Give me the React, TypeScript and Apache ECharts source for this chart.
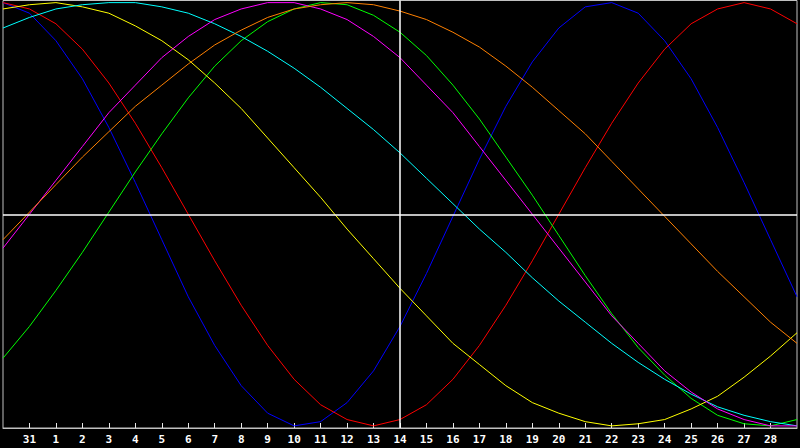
import React, { useEffect, useRef } from 'react';
import * as echarts from 'echarts';

// day labels along the bottom axis (first and last are not shown)
const days = [
  '30', '31', '1', '2', '3', '4', '5', '6', '7', '8', '9', '10', '11', '12', '13', '14',
  '15', '16', '17', '18', '19', '20', '21', '22', '23', '24', '25', '26', '27', '28', '29',
];

// cycle values, -100 .. 100, one per day
const physical = [
  100, 95, 82, 64, 41, 15, -12, -39, -62, -81, -94, -100, -98, -89, -74, -53,
  -28, -1, 26, 51, 72, 88, 98, 100, 95, 82, 64, 41, 15, -12, -39,
];
const emotional = [
  100, 97, 90, 78, 62, 43, 22, 0, -22, -43, -62, -78, -90, -97, -100, -97,
  -90, -78, -62, -43, -22, 0, 22, 43, 62, 78, 90, 97, 100, 97, 90,
];
const intellectual = [
  -68, -53, -36, -18, 1, 20, 38, 55, 70, 82, 91, 97, 100, 99, 94, 86,
  75, 61, 45, 27, 9, -10, -29, -47, -63, -76, -87, -95, -99, -100, -97,
];
const intuitive = [
  -16, 0, 16, 32, 48, 61, 74, 84, 92, 97, 100, 100, 97, 92, 84, 74,
  61, 48, 32, 16, 0, -16, -32, -48, -61, -74, -84, -92, -97, -100, -100,
];
const aesthetic = [
  97, 99, 100, 98, 95, 89, 82, 73, 62, 50, 36, 22, 8, -7, -21, -35,
  -48, -61, -71, -81, -89, -94, -98, -100, -99, -97, -92, -86, -77, -67, -56,
];
const awareness = [
  -12, 1, 14, 27, 39, 51, 61, 71, 80, 87, 93, 97, 99, 100, 99, 96,
  92, 86, 79, 70, 60, 49, 38, 25, 12, -1, -14, -27, -39, -51, -61,
];
const spiritual = [
  88, 93, 97, 99, 100, 100, 98, 95, 90, 84, 77, 69, 60, 50, 40, 29,
  17, 5, -7, -18, -30, -41, -51, -61, -70, -78, -85, -91, -95, -98, -100,
];

const today = '14';

const cycles = [
  { name: 'Physical', data: physical, color: '#0000ff' },
  { name: 'Emotional', data: emotional, color: '#ff0000' },
  { name: 'Intellectual', data: intellectual, color: '#00ff00' },
  { name: 'Aesthetic', data: aesthetic, color: '#ffff00' },
  { name: 'Spiritual', data: spiritual, color: '#00ffff' },
  { name: 'Intuitive', data: intuitive, color: '#ff00ff' },
  { name: 'Awareness', data: awareness, color: '#ff8000' },
];

const App: React.FC = () => {
  const chartRef = useRef<HTMLDivElement>(null);

  useEffect(() => {
    document.body.style.margin = '0';
    if (!chartRef.current) return;
    const chart = echarts.init(chartRef.current, null, { renderer: 'svg' });

    const series: any[] = cycles.map((c, i) => ({
      name: c.name,
      type: 'line',
      data: c.data,
      showSymbol: false,
      symbol: 'none',
      lineStyle: { width: 1, color: c.color },
      itemStyle: { color: c.color },
      emphasis: { disabled: true },
      markLine:
        i === cycles.length - 1
          ? {
              silent: true,
              symbol: 'none',
              label: { show: false },
              lineStyle: { color: '#ffffff', width: 1.5, type: 'solid' },
              emphasis: { disabled: true },
              data: [{ xAxis: today }, { yAxis: 0 }],
            }
          : undefined,
    }));

    const last = days.length - 1;

    chart.setOption({
      animation: false,
      backgroundColor: '#000000',
      grid: {
        left: 0.5,
        right: 0.5,
        top: 0.5,
        bottom: 20,
        show: true,
        backgroundColor: '#000000',
        borderColor: '#c0c0c0',
        borderWidth: 1,
      },
      xAxis: {
        type: 'category',
        data: days,
        boundaryGap: false,
        axisLine: { onZero: false, lineStyle: { color: '#c0c0c0', width: 1 } },
        axisTick: {
          inside: true,
          length: 5,
          interval: (idx: number) => idx > 0 && idx < last,
          lineStyle: { color: '#e8e8e8' },
        },
        axisLabel: {
          interval: 0,
          formatter: (v: string, idx: number) => (idx === 0 || idx === last ? '' : v),
          color: '#ffffff',
          fontFamily: 'DejaVu Sans Mono',
          fontWeight: 'bold',
          fontSize: 11,
          margin: 6,
        },
        splitLine: { show: false },
      },
      yAxis: {
        type: 'value',
        min: -101,
        max: 101,
        show: false,
        splitLine: { show: false },
      },
      series,
    });

    return () => {
      chart.dispose();
    };
  }, []);

  return (
    <div
      ref={chartRef}
      style={{ width: '800px', height: '448px', background: '#000000' }}
    />
  );
};

export default App;
